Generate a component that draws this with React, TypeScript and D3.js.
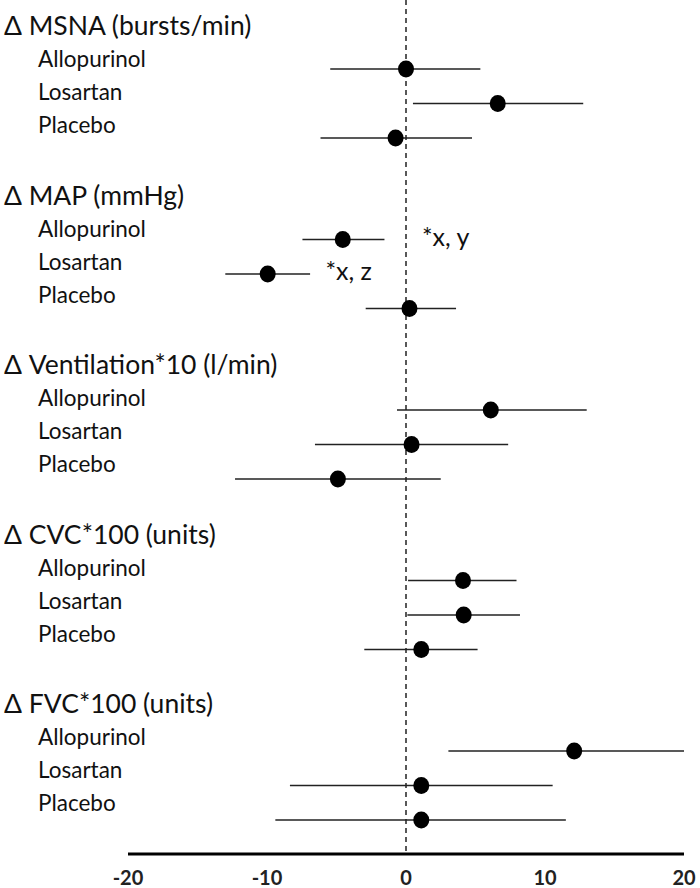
import React from "react";
import * as d3 from "d3";

const groups = [
  "Δ MSNA (bursts/min)",
  "Δ MAP (mmHg)",
  "Δ Ventilation*10 (l/min)",
  "Δ CVC*100 (units)",
  "Δ FVC*100 (units)",
];
const treatments = ["Allopurinol", "Losartan", "Placebo"];

const means = [
  [0, 6.6, -0.75],
  [-4.55, -9.95, 0.25],
  [6.1, 0.4, -4.9],
  [4.1, 4.15, 1.1],
  [12.1, 1.1, 1.1],
];
const lowers = [
  [-5.45, 0.5, -6.15],
  [-7.45, -13.0, -2.9],
  [-0.65, -6.55, -12.3],
  [0.15, 0.1, -3.0],
  [3.05, -8.35, -9.4],
];
const uppers = [
  [5.35, 12.75, 4.75],
  [-1.55, -6.9, 3.6],
  [13.0, 7.35, 2.5],
  [7.95, 8.2, 5.15],
  [20, 10.55, 11.5],
];
const annotations = [
  { group: 1, row: 0, text: "*x, y", value: 1.15 },
  { group: 1, row: 1, text: "*x, z", value: -5.8 },
];
const ticks = [-20, -10, 0, 10, 20];

const W = 700;
const H = 888;
const x = d3.scaleLinear().domain([-20, 20]).range([128, 684]);
const groupY = d3.scaleLinear().domain([0, 4]).range([0, 4 * 170.5]);
const pointY = (g: number, t: number) => 69 + groupY(g) + t * 34.5;
const labelY = (g: number, t: number) => 67 + groupY(g) * (169.5 / 170.5) + t * 33;
const headerY = (g: number) => 35 + groupY(g) * (169.5 / 170.5);
const axisY = 854;

const font = "Lato, 'Open Sans', sans-serif";
const ink = "#111";

export default function App() {
  return (
    <svg
      width={W}
      height={H}
      style={{ position: "absolute", left: 0, top: 0, background: "#fff" }}
      fontFamily={font}
    >
      <rect width={W} height={H} fill="#fff" />
      <line x1={x(0)} x2={x(0)} y1={0} y2={axisY} stroke="#222" strokeWidth={1.5} strokeDasharray="5,4" />
      {groups.map((gName, g) => (
        <g key={gName}>
          <text x={4} y={headerY(g)} fontSize={26.5} fill={ink}>
            {gName}
          </text>
          {treatments.map((tName, t) => (
            <g key={tName}>
              <text x={38} y={labelY(g, t)} fontSize={22.5} fill={ink}>
                {tName}
              </text>
              <line
                x1={x(lowers[g][t])}
                x2={x(uppers[g][t])}
                y1={pointY(g, t)}
                y2={pointY(g, t)}
                stroke="#222"
                strokeWidth={1.6}
              />
              <ellipse cx={x(means[g][t])} cy={pointY(g, t)} rx={8} ry={8.5} fill="#000" />
            </g>
          ))}
        </g>
      ))}
      {annotations.map((a) => (
        <text key={a.text} x={x(a.value)} y={pointY(a.group, a.row) + 6} fontSize={25} fill={ink}>
          {a.text}
        </text>
      ))}
      <line x1={x(-20)} x2={x(20)} y1={axisY} y2={axisY} stroke="#000" strokeWidth={3} />
      {ticks.map((tk) => (
        <text
          key={tk}
          x={x(tk)}
          y={axisY + 31}
          fontSize={20}
          fontWeight={700}
          textAnchor="middle"
          fill="#222"
        >
          {tk}
        </text>
      ))}
    </svg>
  );
}
